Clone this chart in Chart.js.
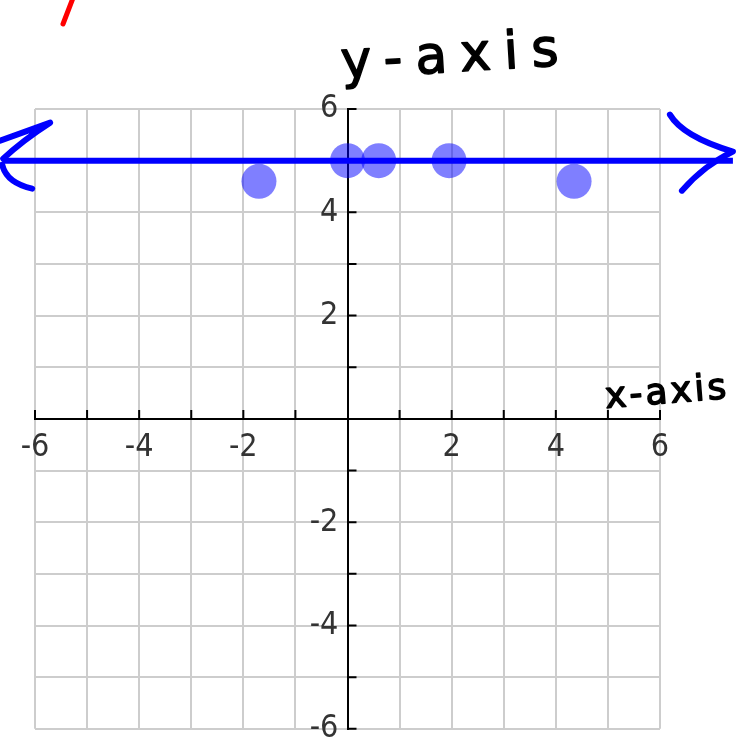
<!DOCTYPE html>
<html lang="en">
<head>
    <meta charset="UTF-8">
    <title>y-axis / x-axis</title>
    <script src="https://cdn.jsdelivr.net/npm/chart.js"></script>
    <style>
        html, body { margin: 0; padding: 0; background: #fff; }
        #wrap { position: relative; width: 742px; height: 751px; }
    </style>
</head>
<body>
    <div id="wrap"><canvas id="grafico"></canvas></div>

    <script>
        // points
        const dotX = [-1.7, 0, 0.6, 1.95, 4.35];
        const dotY = [4.6, 5, 5, 5, 4.6];

        // the blue line y = 5, drawn past the grid on both sides
        const lineX = [-6.63, 7.4];
        const lineY = [5, 5];

        const axisMin = -6;
        const axisMax = 6;
        const tickStep = 1;
        const labelEvery = 2;

        const dots = dotX.map((x, i) => ({ x, y: dotY[i] }));
        const linePts = lineX.map((x, i) => ({ x, y: lineY[i] }));

        function tickLabel(v) {
            return (v !== 0 && v % labelEvery === 0) ? String(v) : '';
        }

        function gridColor(ctx) {
            return ctx.tick && ctx.tick.value === 0 ? 'rgba(0,0,0,0)' : '#cdcdcd';
        }

        const labelFont = { family: '"DejaVu Sans Condensed", "DejaVu Sans", sans-serif', size: 32 };

        // small tick marks on the axes, arrow heads and hand written notes
        const extras = {
            id: 'extras',
            beforeDatasetsDraw(chart) {
                const ctx = chart.ctx;
                const xs = chart.scales.x, ys = chart.scales.y;
                const x0 = xs.getPixelForValue(0), y0 = ys.getPixelForValue(0);
                ctx.save();
                ctx.strokeStyle = '#000';
                ctx.lineWidth = 2;
                ctx.beginPath();
                for (let v = axisMin; v <= axisMax; v += tickStep) {
                    if (v === 0) continue;
                    const px = xs.getPixelForValue(v);
                    ctx.moveTo(px, y0);
                    ctx.lineTo(px, y0 - 9);
                    const py = ys.getPixelForValue(v);
                    ctx.moveTo(x0, py);
                    ctx.lineTo(x0 + 9, py);
                }
                ctx.stroke();
                ctx.restore();
            },
            afterDatasetsDraw(chart) {
                const ctx = chart.ctx;
                const xs = chart.scales.x, ys = chart.scales.y;
                const xl = xs.getPixelForValue(lineX[0]);
                const xr = xs.getPixelForValue(lineX[1]);
                const yl = ys.getPixelForValue(lineY[0]);

                ctx.save();
                ctx.strokeStyle = '#0000ff';
                ctx.lineWidth = 6;
                ctx.lineCap = 'round';
                ctx.lineJoin = 'round';
                // left arrow head
                ctx.beginPath();
                ctx.moveTo(xl - 2, yl - 20);
                ctx.lineTo(xl + 48, yl - 38);
                ctx.quadraticCurveTo(xl + 20, yl - 20, xl + 1, yl - 2);
                ctx.stroke();
                ctx.beginPath();
                ctx.moveTo(xl, yl + 4);
                ctx.quadraticCurveTo(xl + 4, yl + 22, xl + 30, yl + 28);
                ctx.stroke();
                // right arrow head
                ctx.beginPath();
                ctx.moveTo(xr - 63, yl - 46);
                ctx.quadraticCurveTo(xr - 50, yl - 24, xr, yl - 9);
                ctx.quadraticCurveTo(xr - 28, yl + 4, xr - 51, yl + 30);
                ctx.stroke();

                // red mark, top left
                ctx.strokeStyle = '#ff0000';
                ctx.lineWidth = 5;
                ctx.beginPath();
                ctx.moveTo(73, -2);
                ctx.lineTo(63, 24);
                ctx.stroke();

                // hand written axis names
                ctx.fillStyle = '#000';
                ctx.strokeStyle = '#000';
                ctx.lineWidth = 1.5;
                ctx.textAlign = 'center';
                ctx.textBaseline = 'alphabetic';

                ctx.save();
                ctx.translate(450, 72);
                ctx.rotate(-0.06);
                ctx.font = '52px "DejaVu Sans"';
                ctx.letterSpacing = '13px';
                ctx.fillText('y-axis', 7, 0);
                ctx.strokeText('y-axis', 7, 0);
                ctx.restore();

                ctx.save();
                ctx.translate(667, 403);
                ctx.rotate(-0.08);
                ctx.font = '36px "DejaVu Sans"';
                ctx.letterSpacing = '3px';
                ctx.fillText('x-axis', 1, 0);
                ctx.strokeText('x-axis', 1, 0);
                ctx.restore();

                ctx.restore();
            }
        };

        const ctx = document.getElementById('grafico').getContext('2d');
        const chart = new Chart(ctx, {
            type: 'scatter',
            data: {
                datasets: [
                    {
                        type: 'line',
                        label: 'y = 5',
                        data: linePts,
                        borderColor: '#0000ff',
                        borderWidth: 6,
                        pointRadius: 0,
                        fill: false,
                        clip: false
                    },
                    {
                        label: 'points',
                        data: dots,
                        backgroundColor: 'rgba(0, 0, 255, 0.5)',
                        borderWidth: 0,
                        pointRadius: 17.5,
                        pointHoverRadius: 17.5
                    }
                ]
            },
            options: {
                responsive: true,
                maintainAspectRatio: false,
                animation: false,
                events: [],
                layout: { padding: { left: 35, right: 82, top: 109, bottom: 15 } },
                plugins: {
                    legend: { display: false },
                    tooltip: { enabled: false }
                },
                scales: {
                    x: {
                        type: 'linear',
                        min: axisMin,
                        max: axisMax,
                        position: { y: 0 },
                        border: { display: true, color: '#000', width: 2 },
                        grid: { color: gridColor, lineWidth: 2, drawTicks: false },
                        ticks: {
                            stepSize: tickStep,
                            autoSkip: false,
                            maxRotation: 0,
                            padding: 10,
                            color: '#333',
                            font: labelFont,
                            callback: tickLabel
                        }
                    },
                    y: {
                        type: 'linear',
                        min: axisMin,
                        max: axisMax,
                        position: { x: 0 },
                        border: { display: true, color: '#000', width: 2 },
                        grid: { color: gridColor, lineWidth: 2, drawTicks: false },
                        ticks: {
                            stepSize: tickStep,
                            autoSkip: false,
                            color: '#333',
                            font: labelFont,
                            // trailing space keeps the label off the axis line
                            callback: v => tickLabel(v) ? tickLabel(v) + ' ' : ''
                        }
                    }
                }
            },
            plugins: [extras]
        });
    </script>
</body>
</html>
